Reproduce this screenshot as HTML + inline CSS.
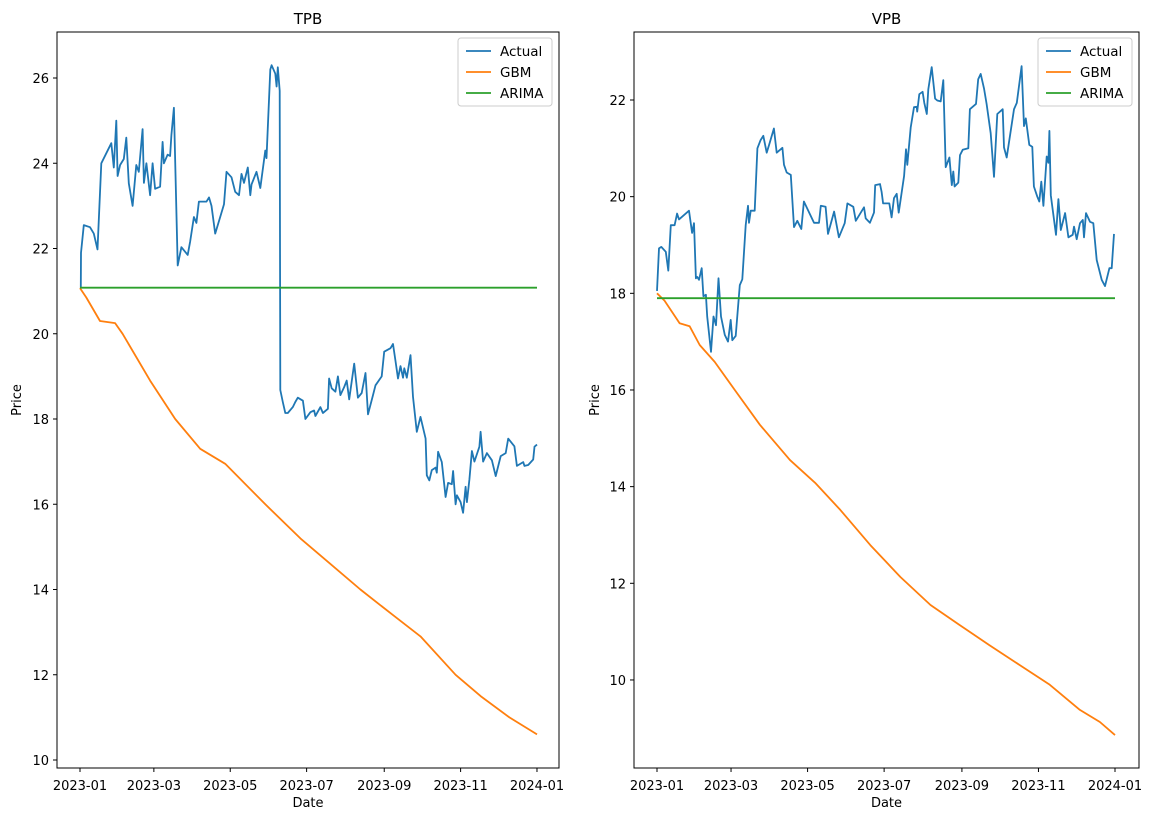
<!DOCTYPE html>
<html><head><meta charset="utf-8"><style>
body{margin:0;background:#fff}
text{font-family:"DejaVu Sans","Liberation Sans",sans-serif;fill:#000}
</style></head><body>
<svg id="c" width="1156" height="820" xmlns="http://www.w3.org/2000/svg"></svg>
<script>
const xTickLabels=["2023-01","2023-03","2023-05","2023-07","2023-09","2023-11","2024-01"];
const xTickDays=[0,59,120,181,243,304,365];
const tpbYTicks=[10,12,14,16,18,20,22,24,26];
const vpbYTicks=[10,12,14,16,18,20,22];
const tpbActualDays=[0.6,0.8,3,8,11,14,17,25,27,29,30,32,35,37,39,42,45,47,50,51,53,56,58,60,64,66,67,70,72,73,75,78,81,86,88,91,93,95,101,103,105,108,112,115,117,121,124,127,129,131,134,136,137,141,144,148,149,152,153,156,157,158,159.5,160,162,164,166,170,172,174,178,180,184,187,188,192,194,198,199,201,204,206,208,211,213,215,219,222,225,228,230,234,236,241,243,248,250,252,254,256,258,259,261,264,266,269,272,276,277,279,281,284,285,286,289,292,294,297,298,300,301,304,306,308,309,311,313,315,319,320,322,325,329,332,336,340,342,347,349,354,355,358,362,363,365];
const tpbActual=[21.07,21.9,22.55,22.5,22.35,21.98,24.0,24.47,23.9,25.0,23.7,23.96,24.1,24.6,23.53,23.0,23.96,23.8,24.8,23.54,24.0,23.25,24.0,23.4,23.45,24.5,24.0,24.2,24.17,24.66,25.3,21.6,22.03,21.85,22.17,22.74,22.6,23.1,23.1,23.2,23.0,22.35,22.74,23.04,23.8,23.67,23.33,23.25,23.75,23.54,23.9,23.25,23.5,23.8,23.42,24.3,24.12,26.2,26.3,26.1,25.8,26.25,25.7,18.68,18.4,18.14,18.14,18.28,18.4,18.5,18.43,18.0,18.16,18.2,18.07,18.28,18.14,18.24,18.95,18.72,18.64,19.0,18.56,18.75,18.9,18.46,19.3,18.5,18.61,19.08,18.11,18.56,18.79,19.0,19.58,19.66,19.76,19.36,18.95,19.24,18.97,19.19,18.97,19.5,18.52,17.7,18.05,17.54,16.68,16.56,16.8,16.86,16.74,17.23,16.99,16.17,16.5,16.47,16.78,16.0,16.21,16.05,15.8,16.41,16.05,16.58,17.25,17.0,17.35,17.7,17.0,17.2,17.03,16.66,17.13,17.2,17.54,17.36,16.9,16.99,16.9,16.92,17.05,17.35,17.4];
const tpbGbmDays=[0,5,16,28,34,56,76,96,116,148,176,200,224,250,272,300,320,343,365];
const tpbGbm=[21.07,20.85,20.3,20.25,20.0,18.9,18.0,17.3,16.95,16.0,15.2,14.6,14.0,13.4,12.9,12.0,11.5,11.0,10.6];
const tpbArima=[21.08,21.08];
const vpbActualDays=[0,1.6,3.4,7,9,11,14,16,17.5,25.5,28,29.5,31,32,33.5,35.6,37,39,40,43,45,47,49,51,54,56.6,58.7,60,62.7,66,68,70.7,72.5,73.3,74.7,77.9,80,82.6,84.7,87.4,89.3,93.2,95.4,99.9,101.2,103.4,106.6,109.2,111.8,115,117.1,125.1,129.1,130.5,134.4,136.3,141.1,145,149.6,151.7,156.4,158.4,165,166.3,169.7,172.9,173.9,177.7,179,180.2,185.1,187,188.9,191,192.6,194.2,196.9,198.4,199.5,202.2,204.8,207,207.4,209,211.7,213,215,216.2,218.9,221.6,223.4,226.1,228.2,230.1,233,234.9,236.1,237.2,240.1,241.5,243.6,248.1,249.4,254.2,256,258,260.6,262.7,265.9,268.6,271.2,275.5,276.5,278.7,284.5,286.7,290.6,292.5,293.9,296.7,299.1,300.4,303.1,304.7,306.3,307.9,310.6,311.9,312.7,313.8,318,319.9,321.8,325.2,327.9,331.3,332.3,334.5,337.1,339.3,340.3,341.9,345.1,347.7,350.4,354.4,357,360.5,362.4,364.2];
const vpbActual=[18.05,18.93,18.96,18.86,18.47,19.41,19.41,19.65,19.53,19.71,19.25,19.45,18.31,18.34,18.28,18.52,17.94,17.97,17.52,16.79,17.52,17.34,18.31,17.52,17.14,17.0,17.45,17.03,17.12,18.17,18.29,19.41,19.81,19.46,19.71,19.71,21.0,21.17,21.26,20.91,21.07,21.41,20.91,21.01,20.66,20.5,20.45,19.37,19.5,19.33,19.9,19.46,19.46,19.81,19.79,19.23,19.69,19.16,19.45,19.86,19.79,19.5,19.78,19.55,19.46,19.67,20.24,20.26,20.1,19.86,19.86,19.57,19.97,20.06,19.67,19.95,20.43,20.98,20.66,21.43,21.85,21.86,21.76,22.12,22.17,21.94,21.71,22.22,22.68,22.03,21.99,21.97,22.41,20.61,20.81,20.24,20.52,20.21,20.29,20.86,20.97,21.0,21.81,21.92,22.43,22.54,22.24,21.92,21.31,20.41,21.71,21.81,21.02,20.81,21.81,21.94,22.7,21.46,21.62,21.07,21.03,20.21,20.0,19.9,20.31,19.81,20.83,20.7,21.36,20.03,19.21,19.95,19.31,19.66,19.16,19.21,19.38,19.12,19.45,19.52,19.16,19.66,19.48,19.45,18.69,18.28,18.15,18.52,18.52,19.23];
const vpbGbmDays=[0,6,18,26,34,46,62,82,106,126,146,170,194,218,241,265,289,313,337,353,365];
const vpbGbm=[18.0,17.85,17.38,17.32,16.93,16.58,16.0,15.28,14.55,14.08,13.52,12.79,12.13,11.55,11.14,10.72,10.31,9.9,9.38,9.13,8.86];
const vpbArima=[17.9,17.9];

const NS="http://www.w3.org/2000/svg";
const svg=document.getElementById('c');
function mk(tag,attrs,parent){const e=document.createElementNS(NS,tag);for(const k in attrs)e.setAttribute(k,attrs[k]);(parent||svg).appendChild(e);return e;}
function panel(cfg){
  const g=mk('g',{});
  
  
  const X=d=>cfg.x0+d*cfg.xs, Y=v=>cfg.y0+(cfg.vTop-v)*cfg.ys;
  const L=cfg.left,R=cfg.right,T=32,B=768;
  const line=(days,vals,color,nm)=>{
    const p=mk('polyline',{points:days.map((d,i)=>X(d).toFixed(1)+','+Y(vals[i]).toFixed(1)).join(' '),fill:'none',stroke:color,'stroke-width':1.8,'stroke-linejoin':'round'},g);
    
    
  };
  line(cfg.actDays,cfg.act,'#1f77b4',cfg.name+'-actual-line');
  line(cfg.gDays,cfg.g,'#ff7f0e',cfg.name+'-gbm-line');
  line([0,cfg.arEnd],cfg.ar,'#2ca02c',cfg.name+'-arima-line');
  const fr=mk('rect',{x:L,y:T,width:R-L,height:B-T,fill:'none',stroke:'#000','stroke-width':1},g);
  
  
  xTickDays.forEach((d,i)=>{
    mk('line',{x1:X(d),x2:X(d),y1:B,y2:B+4,stroke:'#000'},g);
    const t=mk('text',{x:X(d),y:B+22,'font-size':13,'text-anchor':'middle'},g);t.textContent=xTickLabels[i];
    
    
  });
  cfg.yt.forEach(v=>{
    mk('line',{x1:L-4,x2:L,y1:Y(v),y2:Y(v),stroke:'#000'},g);
    const t=mk('text',{x:L-8,y:Y(v)+5,'font-size':13,'text-anchor':'end'},g);t.textContent=v;
    
    
  });
  const ti=mk('text',{x:(L+R)/2,y:24,'font-size':15,'text-anchor':'middle'},g);ti.textContent=cfg.title;
  
  
  const xl=mk('text',{x:(L+R)/2,y:807,'font-size':13,'text-anchor':'middle'},g);xl.textContent='Date';
  
  
  const yl=mk('text',{x:0,y:0,'font-size':13,'text-anchor':'middle',transform:`translate(${cfg.ylx},400) rotate(-90)`},g);yl.textContent='Price';
  
  
  const lg=mk('g',{},g);
  
  
  const lx=R-101;
  mk('rect',{x:lx,y:38,width:94,height:68,rx:3,fill:'#fff',stroke:'#ccc','fill-opacity':0.8},lg);
  [['Actual','#1f77b4'],['GBM','#ff7f0e'],['ARIMA','#2ca02c']].forEach((s,i)=>{
    const yy=51+i*21;
    mk('line',{x1:lx+8,x2:lx+33,y1:yy,y2:yy,stroke:s[1],'stroke-width':1.8},lg);
    const t=mk('text',{x:lx+42,y:yy+5,'font-size':13.5},lg);t.textContent=s[0];
    
    
  });
}
panel({name:'tpb',title:'TPB',left:57,right:559,x0:80,xs:1.252,y0:78,vTop:26,ys:42.625,yt:tpbYTicks,ylx:21,
  actDays:tpbActualDays,act:tpbActual,gDays:tpbGbmDays,g:tpbGbm,ar:tpbArima,arEnd:365});
panel({name:'vpb',title:'VPB',left:634,right:1139,x0:657,xs:1.2548,y0:100,vTop:22,ys:48.33,yt:vpbYTicks,ylx:599,
  actDays:vpbActualDays,act:vpbActual,gDays:vpbGbmDays,g:vpbGbm,ar:vpbArima,arEnd:365});
</script>
</body></html>
